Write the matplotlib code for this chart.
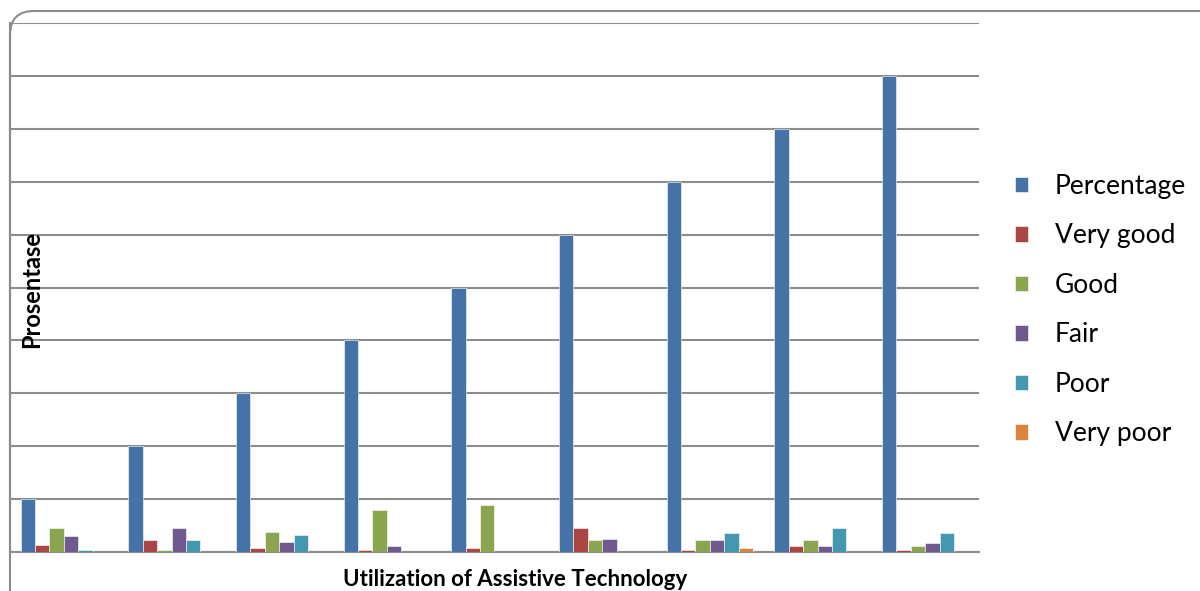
import matplotlib.pyplot as plt
from matplotlib.patches import FancyBboxPatch
import numpy as np

# values
groups = ['1', '2', '3', '4', '5', '6', '7', '8', '9']
percentage = [10, 20, 30, 40, 50, 60, 70, 80, 90]
very_good = [1.3, 2.3, 0.8, 0.3, 0.7, 4.5, 0.3, 1.2, 0.4]
good = [4.6, 0.4, 3.7, 7.9, 8.8, 2.2, 2.2, 2.2, 1.2]
fair = [3.1, 4.6, 1.8, 1.1, 0, 2.5, 2.2, 1.2, 1.7]
poor = [0.4, 2.3, 3.2, 0, 0, 0, 3.6, 4.5, 3.6]
very_poor = [0, 0, 0, 0, 0, 0, 0.8, 0, 0]

series = [('Percentage', percentage, '#4572a7'),
          ('Very good', very_good, '#aa4643'),
          ('Good', good, '#89a54e'),
          ('Fair', fair, '#71588f'),
          ('Poor', poor, '#4198af'),
          ('Very poor', very_poor, '#db843d')]

plt.rcParams['font.family'] = ['Lato', 'DejaVu Sans']

fig = plt.figure(figsize=(12, 5.91), dpi=100)
ax = fig.add_axes([10/1200, 1 - 552/591, 969/1200, (552 - 23)/591])

# rounded chart border
border = FancyBboxPatch((10/1200, -0.2), 1.2, 1 - 11/591 + 0.2,
                        boxstyle='round,pad=0,rounding_size=0.02',
                        transform=fig.transFigure, facecolor='none',
                        edgecolor='#8a8a8a', linewidth=1.5, clip_on=False,
                        mutation_aspect=1200/591)
fig.patches.append(border)

x = np.arange(len(groups))
w = 0.8 / len(series)
for i, (name, vals, col) in enumerate(series):
    ax.bar(x - 0.4 + w * (i + 0.5), vals, width=w, color=col,
           edgecolor='white', linewidth=0.4, label=name, zorder=3)

ax.set_xlim(-0.5, 8.5)
ax.set_ylim(0, 100)
ax.set_yticks(np.arange(0, 101, 10))
ax.set_yticklabels([])
ax.set_xticks([])
ax.tick_params(left=False, bottom=False)
ax.grid(axis='y', color='#8c8c8c', linewidth=1.5, zorder=0)
for s in ['top', 'right']:
    ax.spines[s].set_visible(False)
ax.spines['left'].set_color('#8c8c8c')
ax.spines['bottom'].set_color('#8c8c8c')
ax.spines['left'].set_linewidth(1.5)
ax.spines['bottom'].set_linewidth(1.5)

fig.text(515/1200, 1 - 580/591, 'Utilization of Assistive Technology',
         ha='center', va='center', fontsize=16, fontweight='bold')
fig.text(32/1200, 1 - 289/591, 'Prosentase', rotation=90,
         ha='center', va='center', fontsize=17, fontweight='bold')

ax.legend(loc='upper left', bbox_to_anchor=(981/969, (552 - 150)/529),
          frameon=False, fontsize=19, handlelength=0.52, handleheight=0.52,
          handletextpad=1.0, labelspacing=0.93)

fig.savefig('out.png', dpi=100)
